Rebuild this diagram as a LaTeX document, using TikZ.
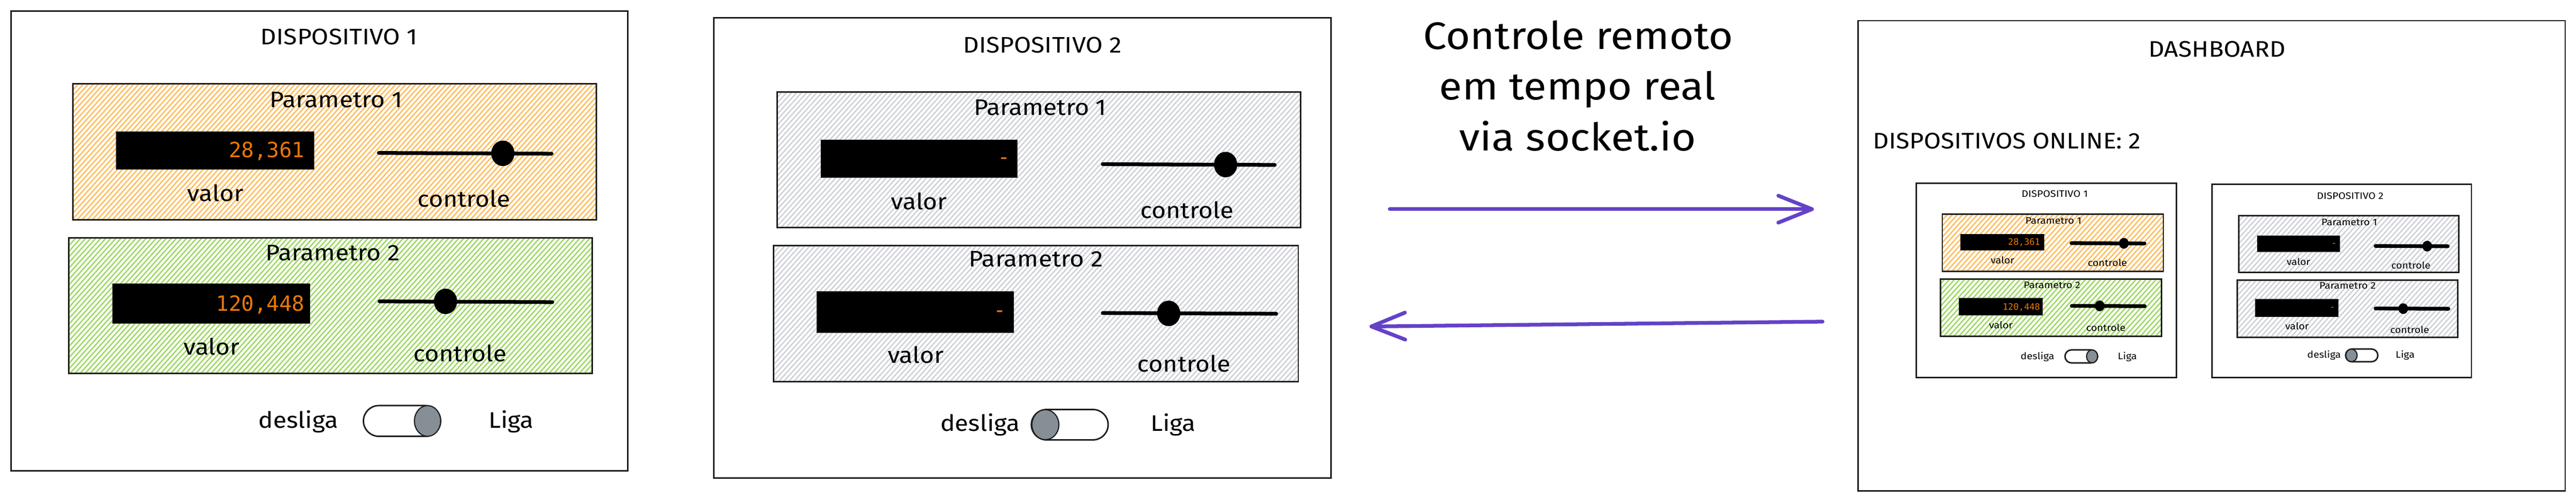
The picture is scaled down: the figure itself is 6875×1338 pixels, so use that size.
\documentclass[tikz,border=0pt]{standalone}
\usepackage{fontspec}
\setmainfont[FakeStretch=1.1]{Fira Sans}
\newfontfamily\monofont{DejaVu Sans Mono}
\usetikzlibrary{patterns.meta,arrows.meta,shapes.misc}

\definecolor{ink}{RGB}{30,30,30}
\definecolor{hatchorange}{RGB}{255,188,90}
\definecolor{hatchgreen}{RGB}{155,216,95}
\definecolor{hatchgray}{RGB}{205,209,215}
\definecolor{numorange}{RGB}{232,120,10}
\definecolor{knobgray}{RGB}{134,142,150}
\definecolor{arrowviolet}{RGB}{100,66,200}

\tikzset{
  frame/.style={draw=ink, line width=4},
  parambox/.style={draw=ink, line width=4},
  hatchO/.style={pattern={Lines[angle=48,distance=10pt,line width=3.5pt]}, pattern color=hatchorange},
  hatchG/.style={pattern={Lines[angle=48,distance=10pt,line width=3.5pt]}, pattern color=hatchgreen},
  hatchK/.style={pattern={Lines[angle=48,distance=10pt,line width=3.5pt]}, pattern color=hatchgray},
  lbl/.style={font=\fontsize{60}{72}\selectfont, anchor=base, inner sep=0},
  biglbl/.style={font=\fontsize{102}{130}\selectfont, anchor=base, inner sep=0},
  num/.style={font=\monofont\fontsize{56}{60}\selectfont, text=numorange, anchor=base east, inner sep=0},
  valbox/.style={fill=black, draw=ink, line width=2},
  slider/.style={draw=black, line width=10, line cap=round},
  knob/.style={fill=black},
  capsule/.style={rounded rectangle, draw=ink, line width=4, fill=white, inner sep=0},
  capknob/.style={fill=knobgray, draw=ink, line width=3},
  flow/.style={draw=arrowviolet, line width=10, line cap=round,
    -{Straight Barb[length=90pt, width=72pt, line cap=round, line join=round]}}
}

% device 1, local coordinates (origin = top-left of frame)
\newcommand\devone[1]{%
  \draw[frame] (0,0) rectangle (1645,1226);
  \node[lbl] (#1title) at (875,89) {DISPOSITIVO 1};
  % parameter 1
  \path[hatchO] (165,194) rectangle (1561,557);
  \draw[parambox] (165,194) rectangle (1561,557);
  \node[lbl] (#1pa) at (867,256) {Parametro 1};
  \draw[valbox] (281,322) rectangle (808,422);
  \node[num] (#1va) at (783,390) {28,361};
  \coordinate (#1sa1) at (981,378); \coordinate (#1sa2) at (1442,380);
  \draw[slider] (#1sa1) -- (#1sa2);
  \fill[knob] (1312,379) ellipse [x radius=31, y radius=34];
  \node[lbl] (#1vla) at (545,507) {valor};
  \node[lbl] (#1cla) at (1208,522) {controle};
  % parameter 2
  \path[hatchG] (154,604) rectangle (1550,966);
  \draw[parambox] (154,604) rectangle (1550,966);
  \node[lbl] (#1pb) at (858,665) {Parametro 2};
  \draw[valbox] (271,727) rectangle (797,833);
  \node[num] (#1vb) at (783,800) {120,448};
  \coordinate (#1sb1) at (983,774); \coordinate (#1sb2) at (1444,776);
  \draw[slider] (#1sb1) -- (#1sb2);
  \fill[knob] (1159,774) ellipse [x radius=31, y radius=34];
  \node[lbl] (#1vlb) at (535,917) {valor};
  \node[lbl] (#1clb) at (1198,934) {controle};
  % on/off switch
  \node[lbl] (#1off) at (766,1112) {desliga};
  \node[capsule, minimum width=206, minimum height=82] (#1cap) at (1043,1093) {};
  \path[capknob] (1111,1093) ellipse [x radius=35, y radius=41];
  \node[lbl] (#1on) at (1334,1112) {Liga};
}

% device 2, local coordinates (origin = top-left of frame)
\newcommand\devtwo[1]{%
  \draw[frame] (0,0) rectangle (1647,1228);
  \node[lbl] (#1title) at (877,94) {DISPOSITIVO 2};
  % parameter 1
  \path[hatchK] (169,198) rectangle (1566,560);
  \draw[parambox] (169,198) rectangle (1566,560);
  \node[lbl] (#1pa) at (871,260) {Parametro 1};
  \draw[valbox] (286,326) rectangle (809,426);
  \node[num] (#1va) at (791,391) {-};
  \coordinate (#1sa1) at (1038,391); \coordinate (#1sa2) at (1497,393);
  \draw[slider] (#1sa1) -- (#1sa2);
  \fill[knob] (1366,392) ellipse [x radius=31, y radius=34];
  \node[lbl] (#1vla) at (548,512) {valor};
  \node[lbl] (#1cla) at (1263,535) {controle};
  % parameter 2
  \path[hatchK] (160,608) rectangle (1560,971);
  \draw[parambox] (160,608) rectangle (1560,971);
  \node[lbl] (#1pb) at (860,665) {Parametro 2};
  \draw[valbox] (276,731) rectangle (800,840);
  \node[num] (#1vb) at (781,799) {-};
  \coordinate (#1sb1) at (1038,788); \coordinate (#1sb2) at (1501,790);
  \draw[slider] (#1sb1) -- (#1sb2);
  \fill[knob] (1214,789) ellipse [x radius=31, y radius=34];
  \node[lbl] (#1vlb) at (539,921) {valor};
  \node[lbl] (#1clb) at (1255,945) {controle};
  % on/off switch
  \node[lbl] (#1off) at (711,1103) {desliga};
  \node[capsule, minimum width=205, minimum height=81] (#1cap) at (950,1086) {};
  \path[capknob] (885,1086) ellipse [x radius=36, y radius=40];
  \node[lbl] (#1on) at (1226,1103) {Liga};
}

\begin{document}
\begin{tikzpicture}[x=1pt,y=-1pt]
  \useasboundingbox (0,0) rectangle (6875,1338);
  \fill[white] (0,0) rectangle (6875,1338);

  % device 1
  \begin{scope}[shift={(30,30)}]
    \devone{da}
  \end{scope}

  % device 2
  \begin{scope}[shift={(1905,47)}]
    \devtwo{db}
  \end{scope}

  % caption
  \node[biglbl] (cap1) at (4212,131) {Controle remoto};
  \node[biglbl] (cap2) at (4210,266) {em tempo real};
  \node[biglbl] (cap3) at (4211,402) {via socket.io};

  % arrows
  \coordinate (ar1s) at (3709,558);
  \coordinate (ar1e) at (4841,558);
  \draw[flow] (ar1s) -- (ar1e);
  \coordinate (ar2s) at (4864,858);
  \coordinate (ar2e) at (3655,871);
  \draw[flow] (ar2s) -- (ar2e);

  % dashboard
  \draw[frame] (4959,55) rectangle (6846,1310);
  \node[lbl] (dash) at (5917,152) {DASHBOARD};
  \node[lbl, anchor=base west] (online) at (4998,397) {DISPOSITIVOS ONLINE: 2};

  \begin{scope}[shift={(5114,489)}, scale=0.4225, transform shape]
    \devone{ma}
  \end{scope}
  \begin{scope}[shift={(5904,492)}, scale=0.42, transform shape]
    \devtwo{mb}
  \end{scope}
\end{tikzpicture}
\end{document}
